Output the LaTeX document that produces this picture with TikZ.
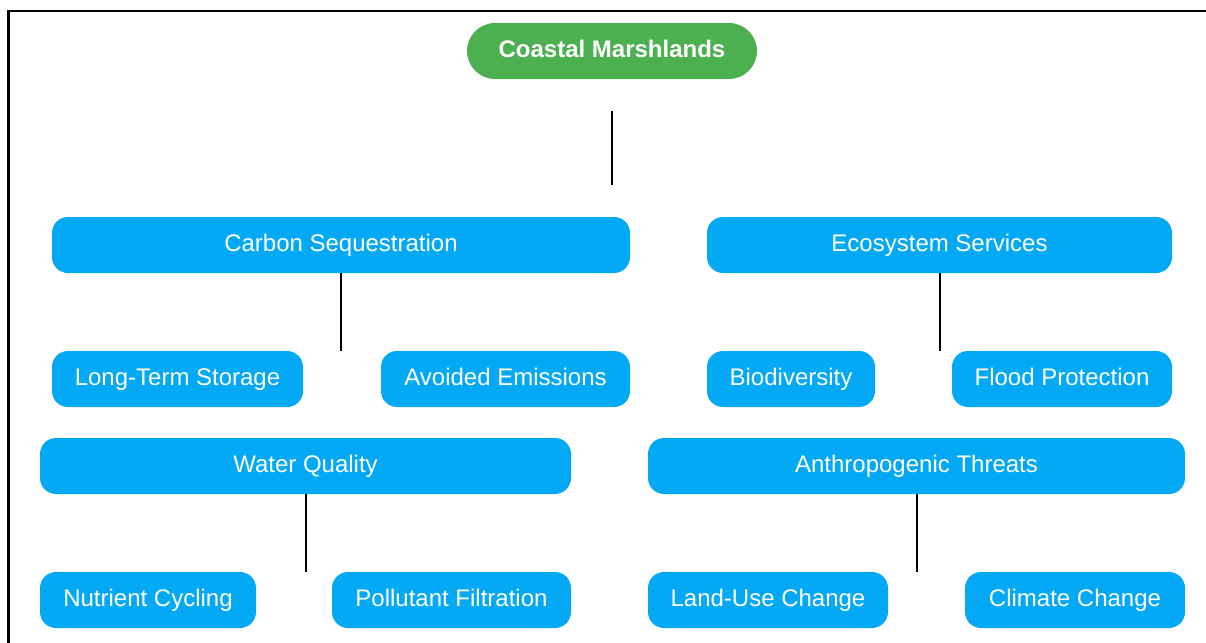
\documentclass[tikz,border=0pt]{standalone}
\usepackage{fontspec}
\setmainfont{Liberation Sans}
\usetikzlibrary{calc}

\definecolor{marsh}{HTML}{4CAF50}
\definecolor{topic}{HTML}{03A9F4}

\tikzset{
  box/.style={fill=topic, text=white, rounded corners=8pt, minimum height=28pt,
    inner sep=0pt, text height=9pt, text depth=2.5pt,
    font=\fontsize{12}{14}\selectfont},
  rootbox/.style={box, fill=marsh, rounded corners=14pt,
    font=\fontsize{12}{14}\selectfont\bfseries},
  link/.style={line width=1pt, black},
}

\begin{document}
\begin{tikzpicture}[x=0.5pt,y=-0.5pt]
  \clip (0,0) rectangle (1206,643);
  \draw[line width=1.3pt] (8.5,11) rectangle (1230,670);

  \node[rootbox, minimum width=145pt] (root) at (612,51) {Coastal Marshlands};

  % second row and the leaves under it
  \foreach \name/\x/\y/\w/\txt in {
      carbon/341/245/578/Carbon Sequestration,
      eco/939.5/245/465/Ecosystem Services,
      storage/177.5/379/251/Long-Term Storage,
      avoided/505.5/379/249/Avoided Emissions,
      bio/791/379/168/Biodiversity,
      flood/1062/379/220/Flood Protection,
      water/305.5/466/531/Water Quality,
      threats/916.5/466/537/Anthropogenic Threats,
      nutrient/148/600/216/Nutrient Cycling,
      pollutant/451.5/600/239/Pollutant Filtration,
      landuse/768/600/240/Land-Use Change,
      climate/1075/600/220/Climate Change}{
    \node[box, minimum width=0.5*\w pt] (\name) at (\x,\y) {\txt};
  }

  \path (root.south) ++(0,32) coordinate (split) ++(0,74) coordinate (splitend);
  \draw[link] (split) -- (splitend);
  \foreach \top/\sub in {carbon/storage, eco/bio, water/nutrient, threats/landuse}{
    \draw[link] (\top.south) -- (\top.south |- \sub.north);
  }
\end{tikzpicture}
\end{document}
